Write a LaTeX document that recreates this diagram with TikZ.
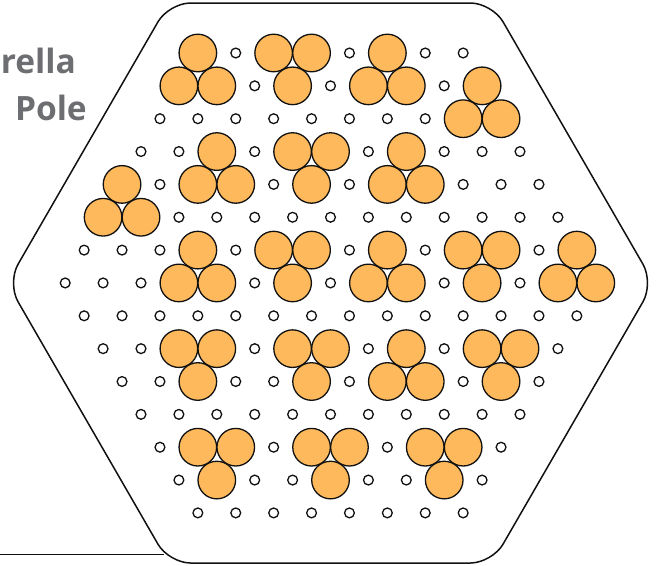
\documentclass[tikz,border=0pt]{standalone}
\usepackage{fontspec}
\newfontfamily\labelfont{Open Sans}
\usepackage{xcolor}
\definecolor{cLine}{HTML}{111111}
\definecolor{cPole}{HTML}{FDB95B}
\definecolor{cGray}{HTML}{6D6E71}
\usepackage{tikz}
\tikzset{
  hex-rim/.style={draw=cLine,line width=1.5pt,rounded corners=21.7pt},
  cell-hole/.style={draw=cLine,line width=1.3pt,fill=white},
  cell-pole/.style={draw=cLine,line width=1.3pt,fill=cPole},
  line-pole/.style={draw=cLine,line width=1.5pt},
  node-label/.style={text=cGray,inner sep=0pt,
    font=\labelfont\bfseries\fontsize{33.5}{37}\selectfont},
}
% row/col of the filled cells, three per cluster
\newcommand{\polecells}{0/0,1/0,1/1, 0/2,0/3,1/3, 0/5,1/5,1/6, 1/8,2/8,2/9,
  3/2,4/2,4/3, 3/4,3/5,4/5, 3/7,4/7,4/8, 4/0,5/0,5/1,
  6/3,7/3,7/4, 6/5,6/6,7/6, 6/8,7/8,7/9, 6/10,6/11,7/11, 6/13,7/13,7/14,
  9/2,9/3,10/2, 9/5,9/6,10/5, 9/8,10/7,10/8, 9/10,9/11,10/10,
  12/1,12/2,13/1, 12/4,12/5,13/4, 12/7,12/8,13/7}

\begin{document}
\begin{tikzpicture}[x=1pt,y=-1pt]
  \useasboundingbox (0,0) rectangle (660,565);
  \node[node-label,anchor=base east] (umb)  at (76,73)  {rella};
  \node[node-label,anchor=base east] (pole) at (87,120) {Pole};
  \coordinate (page-edge) at (0,554.3);
  \coordinate (rim-foot)  at (163.5,554.3);
  \draw[line-pole] (page-edge) -- (rim-foot);
  \draw[hex-rim] (7.2,283) -- (168.85,3) -- (492.15,3) -- (653.8,283)
    -- (492.15,563) -- (168.85,563) -- cycle;
  % mark the filled cells, then the holes go everywhere else
  \foreach \i/\j in \polecells{\expandafter\gdef\csname or-\i-\j\endcsname{}}
  \foreach \i in {0,...,14}{
    \pgfmathtruncatemacro\last{7+min(\i,14-\i)}
    \foreach \j in {0,...,\last}{
      \ifcsname or-\i-\j\endcsname\else
        \draw[cell-hole] ({330.5+(\j-\last/2)*37.9},{53+\i*32.85}) circle[radius=4.9];
      \fi
    }
  }
  \foreach \i/\j in \polecells{
    \pgfmathtruncatemacro\last{7+min(\i,14-\i)}
    \draw[cell-pole] ({330.5+(\j-\last/2)*37.9},{53+\i*32.85}) circle[radius=18.8];
  }
\end{tikzpicture}
\end{document}
